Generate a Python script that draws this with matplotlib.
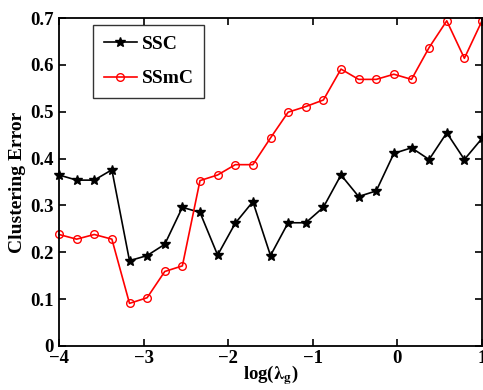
import numpy as np
import matplotlib
matplotlib.use("Agg")
import matplotlib.pyplot as plt

log_lambda = np.linspace(-4, 1, 25)
ssc = [0.365, 0.354, 0.354, 0.376, 0.182, 0.193, 0.217, 0.296, 0.285, 0.194,
       0.262, 0.308, 0.193, 0.263, 0.263, 0.296, 0.365, 0.319, 0.331, 0.411,
       0.423, 0.398, 0.455, 0.398, 0.443]
ssmc = [0.238, 0.228, 0.238, 0.228, 0.091, 0.103, 0.159, 0.171, 0.353, 0.365,
        0.387, 0.387, 0.444, 0.499, 0.511, 0.525, 0.591, 0.569, 0.569, 0.580,
        0.569, 0.637, 0.694, 0.614, 0.694]
xticks = [-4, -3, -2, -1, 0, 1]
yticks = [0, 0.1, 0.2, 0.3, 0.4, 0.5, 0.6, 0.7]
ytick_labels = ["0", "0.1", "0.2", "0.3", "0.4", "0.5", "0.6", "0.7"]
xtick_labels = ["\u22124", "\u22123", "\u22122", "\u22121", "0", "1"]

plt.rcParams['font.family'] = ['Liberation Serif', 'DejaVu Serif']
plt.rcParams['font.weight'] = 'bold'
plt.rcParams['mathtext.fontset'] = 'stix'

fig = plt.figure(figsize=(4.83, 3.9), dpi=100)
ax = fig.add_axes([59/483, 1-346/390, 423/483, 328/390])

ax.plot(log_lambda, ssc, color='black', lw=1.2, marker='*', ms=7,
        markerfacecolor='black', markeredgecolor='black', label='SSC', clip_on=False)
ax.plot(log_lambda, ssmc, color='red', lw=1.2, marker='o', ms=5.5,
        markerfacecolor='none', markeredgecolor='red', markeredgewidth=1.0,
        label='SSmC', clip_on=False)

ax.set_xlim(-4, 1)
ax.set_ylim(0, 0.7)
ax.set_xticks(xticks)
ax.set_xticklabels(xtick_labels)
ax.set_yticks(yticks)
ax.set_yticklabels(ytick_labels)
ax.tick_params(direction='in', top=True, right=True, length=5, width=1.2,
               labelsize=13.5)
ax.tick_params(axis='x', pad=3)
ax.tick_params(axis='y', pad=4)
for lbl in ax.get_xticklabels() + ax.get_yticklabels():
    lbl.set_fontweight('bold')
for sp in ax.spines.values():
    sp.set_linewidth(1.3)

ax.set_ylabel('Clustering Error', fontsize=14, fontweight='bold', labelpad=3)
ax.set_xlabel(r'log($\mathbf{\lambda_g}$)', fontsize=13.5, fontweight='bold', labelpad=-3)

leg = ax.legend(loc='upper left', bbox_to_anchor=(0.080, 0.979),
                borderaxespad=0, frameon=True, fancybox=False, edgecolor='black',
                handlelength=1.7, handletextpad=0.25, borderpad=0.55,
                labelspacing=0.85, prop={'weight': 'bold', 'size': 14})
leg.get_frame().set_linewidth(1.0)

fig.savefig('out.png', dpi=100)
